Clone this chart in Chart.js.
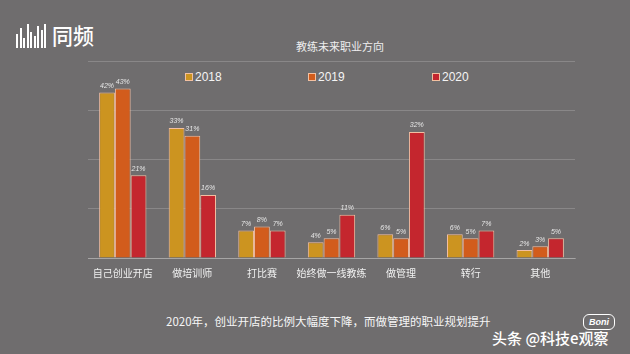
<!DOCTYPE html>
<html>
<head>
<meta charset="utf-8">
<script src="https://cdn.jsdelivr.net/npm/chart.js@4.4.1/dist/chart.umd.min.js"></script>
<style>
  html, body { margin: 0; padding: 0; }
  body { width: 630px; height: 354px; background: #6f6d6e; position: relative; overflow: hidden;
         font-family: "Noto Sans CJK SC", "Noto Sans", sans-serif; color: #f2f2f2; }
  #wrap { position: absolute; left: 0; top: 0; width: 630px; height: 354px; }
  .logo { position: absolute; left: 16px; top: 21px; height: 28px; }
  .logo .bars { position: absolute; left: 0; top: 3px; width: 32px; height: 24px; }
  .logo .bars span { position: absolute; bottom: 0; width: 2px; background: #fff; }
  .logo .name { position: absolute; left: 36px; top: -3px; font-size: 22px; font-weight: 500; color: #fff; white-space: nowrap; transform: scaleX(0.95); transform-origin: left; }
  .title { position: absolute; left: 0; width: 680px; top: 38px; text-align: center; font-size: 11px; color: #eee; }
  .legend { position: absolute; top: 70px; font-size: 12px; font-family: "Liberation Sans", Arial, sans-serif; color: #f4f4f4; white-space: nowrap; }
  .legend i { display: inline-block; width: 8px; height: 8px; margin-right: 2px; box-sizing: border-box; border: 1px solid #f3c0a0; vertical-align: 0px; }
  .note { position: absolute; left: 166px; top: 313px; font-size: 11.5px; color: #f6f6f6; white-space: nowrap; }
  .mark { position: absolute; left: 492px; top: 327px; font-size: 15px; color: #fff; white-space: nowrap; font-weight: 500; }
  .boni { position: absolute; left: 583px; top: 314px; width: 30px; height: 14px; border: 1.5px solid #fff; border-radius: 6px;
          font-size: 9px; font-weight: bold; font-style: italic; color: #fff; text-align: center; line-height: 14px; font-family: "Liberation Sans", sans-serif; }
</style>
</head>
<body>
<div class="logo">
  <div class="bars" id="bars"></div>
  <div class="name">同频</div>
</div>
<div class="title">教练未来职业方向</div>
<div class="legend" style="left:185px"><i style="background:#cc9420"></i>2018</div>
<div class="legend" style="left:308px"><i style="background:#d25c1c"></i>2019</div>
<div class="legend" style="left:432px"><i style="background:#c4262e"></i>2020</div>
<div class="note">2020年，创业开店的比例大幅度下降，而做管理的职业规划提升</div>
<div class="boni">Boni</div>
<div class="mark">头条 @科技e观察</div>
<div id="wrap"><canvas id="myChart" width="630" height="354"></canvas></div>
<script>
let categories = ['自己创业开店', '做培训师', '打比赛', '始终做一线教练', '做管理', '转行', '其他'];
let years = ['2018', '2019', '2020'];
let values2018 = [42, 33, 7, 4, 6, 6, 2];
let values2019 = [43, 31, 8, 5, 5, 5, 3];
let values2020 = [21, 16, 7, 11, 32, 7, 5];
let colors = ['#cc9420', '#d25c1c', '#c4262e'];

// little logo bars
let barHeights = [14, 20, 10, 24, 16, 12, 22, 18, 24];
let barsBox = document.getElementById('bars');
barHeights.forEach(function (h, i) {
	let s = document.createElement('span');
	s.style.left = (i * 3.5) + 'px';
	s.style.height = h + 'px';
	barsBox.appendChild(s);
});

let valueLabels = {
	id: 'valueLabels',
	afterDatasetsDraw(chart) {
		let ctx = chart.ctx;
		ctx.save();
		ctx.font = 'italic 7px "Liberation Sans", Arial, sans-serif';
		ctx.fillStyle = '#e6e6e6';
		ctx.textAlign = 'center';
		ctx.textBaseline = 'bottom';
		chart.data.datasets.forEach(function (ds, i) {
			chart.getDatasetMeta(i).data.forEach(function (bar, j) {
				ctx.fillText(ds.data[j] + '%', bar.x, bar.y - 3);
			});
		});
		ctx.restore();
	}
};

let allData = [values2018, values2019, values2020];

let chart1 = new Chart(document.getElementById('myChart').getContext('2d'), {
	type: 'bar',
	data: {
		labels: categories,
		datasets: years.map(function (y, i) {
			return {
				label: y,
				data: allData[i],
				backgroundColor: colors[i],
				borderColor: '#f2bea2',
				borderWidth: 1,
				barPercentage: 1,
				categoryPercentage: 0.68
			};
		})
	},
	options: {
		responsive: false,
		animation: false,
		layout: { padding: { left: 88, right: 55, top: 61, bottom: 74 } },
		plugins: {
			legend: { display: false },
			title: { display: false },
			tooltip: { enabled: false }
		},
		scales: {
			x: {
				grid: { display: false },
				border: { color: 'rgba(255,255,255,0.25)' },
				ticks: { color: '#f0f0f0', font: { size: 10, family: '"Noto Sans CJK SC", sans-serif' }, padding: 1, maxRotation: 0, autoSkip: false }
			},
			y: {
				min: 0,
				max: 50,
				ticks: { display: false, stepSize: 12.5 },
				grid: { color: 'rgba(255,255,255,0.18)', drawTicks: false },
				border: { display: false }
			}
		}
	},
	plugins: [valueLabels]
});
</script>
</body>
</html>
